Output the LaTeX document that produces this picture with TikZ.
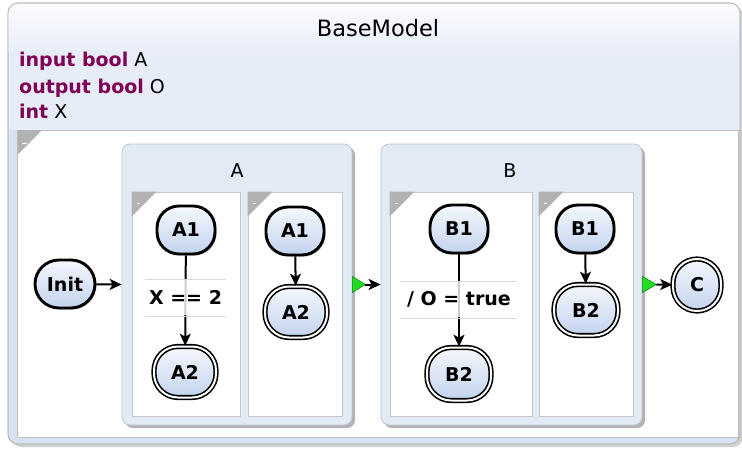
\documentclass[tikz,border=0pt]{standalone}
\usepackage{fontspec}
\setmainfont{DejaVu Sans}
\usetikzlibrary{arrows.meta,shadows}

\definecolor{kw}{HTML}{7F0055}
\definecolor{hdrtop}{HTML}{FAFBFE}
\definecolor{hdrbot}{HTML}{E6ECF8}
\definecolor{band}{HTML}{D7E2F3}
\definecolor{boxfill}{HTML}{E2EAF6}
\definecolor{boxline}{HTML}{BCC6D6}
\definecolor{sttop}{HTML}{F5F8FD}
\definecolor{stbot}{HTML}{C2D3EE}
\definecolor{okgreen}{HTML}{22DD22}
\definecolor{okline}{HTML}{118811}

\tikzset{
  fs/.style={font=\fontsize{#1}{#1}\selectfont},
  state/.style={draw=black, line width=2.9pt, rounded corners=22pt,
    minimum width=58pt, minimum height=48pt, inner sep=0pt,
    top color=sttop, bottom color=stbot,
    font=\fontsize{19}{22}\selectfont\bfseries,
    drop shadow={shadow xshift=1.5pt, shadow yshift=-1.5pt, opacity=.3, fill=black}},
  final/.style={state, line width=1.6pt, double=white, double distance=2pt,
    minimum width=62pt, minimum height=51pt, rounded corners=24pt},
  superbox/.style={draw=boxline, line width=0.8pt, fill=boxfill, rounded corners=8pt,
    inner sep=0pt,
    drop shadow={shadow xshift=3pt, shadow yshift=-3pt, opacity=.3, fill=black}},
  region/.style={draw=black!22, line width=0.9pt, fill=white, inner sep=0pt,
    minimum height=224pt},
  corner/.style={fill=black!30},
  tr/.style={line width=2pt, -{Stealth[length=12pt, width=11pt, inset=3pt]}},
  lbl/.style={fill=white, fill opacity=.8, text opacity=1, inner sep=0pt,
    minimum height=35pt, font=\fontsize{19}{22}\selectfont\bfseries},
  lblline/.style={draw=black!15, line width=1pt},
  decl/.style={anchor=base west, inner sep=0pt, font=\fontsize{19}{22}\selectfont},
}

\begin{document}
\begin{tikzpicture}[x=1pt, y=-1pt]
\useasboundingbox (0,0) rectangle (742,453);

% outer model frame
\fill[black, opacity=.18, rounded corners=10pt] (11,6) rectangle (743,447);
\draw[draw=black!28, line width=0.8pt, rounded corners=10pt, fill=band]
  (8,3) rectangle (740,444);
\shade[top color=hdrtop, bottom color=hdrbot, rounded corners=9pt]
  (8.5,3.5) rectangle (739.5,60);
\fill[hdrbot] (8.5,50) rectangle (739.5,130);
\draw[draw=black!28, line width=0.8pt, rounded corners=10pt]
  (8,3) rectangle (740,444);
\node[fs=22.5, anchor=base, inner sep=0pt] (title) at (378,36) {BaseModel};
\node[decl] (d1) at (19,66.5) {\textcolor{kw}{\bfseries input bool} A};
\node[decl] (d2) at (19,93) {\textcolor{kw}{\bfseries output bool} O};
\node[decl] (d3) at (19,118.5) {\textcolor{kw}{\bfseries int} X};

% body region of the model
\draw[draw=black!25, line width=0.8pt, fill=white] (17.5,130) rectangle (738,437.5);
\fill[corner] (17.5,130) -- (42,130) -- (17.5,155) -- cycle;
\draw[white, line width=1pt] (22,143) -- (26.5,143);

% initial state
\node[state, minimum width=60pt, rounded corners=24pt] (init) at (65,284) {Init};

% superstate A
\node[superbox, minimum width=230pt, minimum height=281pt] (A) at (237,284.5) {};
\node[fs=19, anchor=base, inner sep=0pt] (Atitle) at (237,177) {A};
\node[region, minimum width=108pt] (ra1) at (186,304) {};
\node[region, minimum width=94pt] (ra2) at (295,304) {};
\fill[corner] (ra1.north west) -- ++(25,0) -- ++(-25,25) -- cycle;
\fill[corner] (ra2.north west) -- ++(25,0) -- ++(-25,25) -- cycle;
\draw[white, line width=1pt] (136.5,203) -- (140,203);
\draw[white, line width=1pt] (252.5,203) -- (256,203);

\node[state] (a11) at (186,230) {A1};
\node[final] (a12) at (185,372) {A2};
\draw[tr] (a11) -- (a12)
  node[lbl, pos=.47, minimum width=79pt] (la) {X == 2};
\draw[lblline] (la.north west) -- (la.north east);
\draw[lblline] (la.south west) -- (la.south east);

\node[state] (a21) at (295,231) {A1};
\node[final] (a22) at (296,312) {A2};
\draw[tr] (a21) -- (a22);

% superstate B
\node[superbox, minimum width=261pt, minimum height=281pt] (B) at (511.5,284.5) {};
\node[fs=19, anchor=base, inner sep=0pt] (Btitle) at (510,177) {B};
\node[region, minimum width=142pt] (rb1) at (461,304) {};
\node[region, minimum width=94pt] (rb2) at (586,304) {};
\fill[corner] (rb1.north west) -- ++(25,0) -- ++(-25,25) -- cycle;
\fill[corner] (rb2.north west) -- ++(25,0) -- ++(-25,25) -- cycle;
\draw[white, line width=1pt] (394.5,203) -- (398,203);
\draw[white, line width=1pt] (543.5,203) -- (547,203);

\node[state] (b11) at (459,229) {B1};
\node[final, minimum width=64pt, minimum height=53pt] (b12) at (459,374) {B2};
\draw[tr] (b11) -- (b12)
  node[lbl, pos=.49, minimum width=114pt] (lb) {/ O = true};
\draw[lblline] (lb.north west) -- (lb.north east);
\draw[lblline] (lb.south west) -- (lb.south east);

\node[state] (b21) at (585,229) {B1};
\node[final, minimum width=64pt, minimum height=51pt] (b22) at (586,310) {B2};
\draw[tr] (b21) -- (b22);

% final state of the model
\node[final, minimum width=48pt, minimum height=52pt] (c) at (697,285) {C};

% transitions between top-level states
\draw[tr] (init) -- (A.west);
\filldraw[fill=okgreen, draw=okline, line width=0.6pt]
  (A.east) ++(0,-8) -- ++(13,8) -- ++(-13,8) -- cycle;
\coordinate (ax) at ([xshift=13pt]A.east);
\draw[tr] (ax) -- (B.west);
\filldraw[fill=okgreen, draw=okline, line width=0.6pt]
  (B.east) ++(0,-8) -- ++(14,8) -- ++(-14,8) -- cycle;
\coordinate (bx) at ([xshift=14pt]B.east);
\draw[tr] (bx) -- (c);
\end{tikzpicture}
\end{document}
